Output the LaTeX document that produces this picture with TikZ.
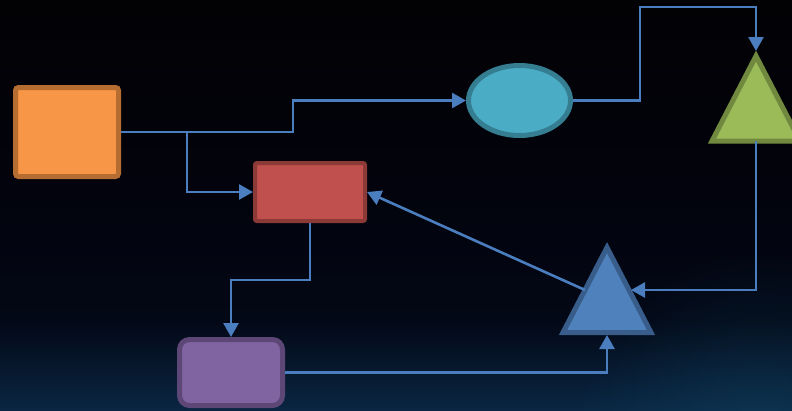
\documentclass[tikz,border=0pt]{standalone}
\usetikzlibrary{arrows.meta,calc,shapes.geometric,fadings}
\definecolor{bgtop}{HTML}{020205}
\definecolor{bgmidA}{HTML}{02030C}
\definecolor{bgmidB}{HTML}{030816}
\definecolor{bgbot}{HTML}{0A2642}
\definecolor{glow}{HTML}{125070}
\definecolor{conncol}{HTML}{4A7EBF}
\definecolor{orfill}{HTML}{F79646}\definecolor{ordraw}{HTML}{B66D31}
\definecolor{rdfill}{HTML}{C0504D}\definecolor{rddraw}{HTML}{8C3A38}
\definecolor{cyfill}{HTML}{4BACC6}\definecolor{cydraw}{HTML}{357D91}
\definecolor{grfill}{HTML}{9BBB59}\definecolor{grdraw}{HTML}{71893F}
\definecolor{blfill}{HTML}{4F81BD}\definecolor{bldraw}{HTML}{385D8A}
\definecolor{pufill}{HTML}{8064A2}\definecolor{pudraw}{HTML}{5C4776}
\pgfdeclareverticalshading{bgshade}{100bp}{color(0bp)=(bgbot); color(25bp)=(bgbot); color(36bp)=(bgmidB); color(52bp)=(bgmidA); color(75bp)=(bgtop); color(100bp)=(bgtop)}
\tikzfading[name=myglowfade, inner color=transparent!0, outer color=transparent!100]
\tikzset{
  conn/.style={draw=conncol, line width=2.6pt, -{Triangle[length=14pt,width=15pt]}},
  shapebox/.style={inner sep=0pt, outer sep=2.5pt},
  trianglebox/.style={inner sep=0pt, outer sep=0pt, minimum width=88pt, minimum height=85pt},
}
\begin{document}
\begin{tikzpicture}[x=1pt,y=-1pt]
\useasboundingbox (0,0) rectangle (792,410);
\shade[shading=bgshade] (0,0) rectangle (792,410);
\begin{scope}
\clip (0,0) rectangle (792,410);
\fill[glow, opacity=0.35, path fading=myglowfade] (760,440) circle (190);
\end{scope}
% shapes
\node[shapebox, draw=ordraw, fill=orfill, line width=5pt, rounded corners=3pt,
      minimum width=103pt, minimum height=89pt] (o) at (67,132) {};
\node[shapebox, outer sep=2pt, draw=rddraw, fill=rdfill, line width=4pt, rounded corners=2pt,
      minimum width=110pt, minimum height=58pt] (r) at (310,192) {};
\node[shapebox, ellipse, draw=cydraw, fill=cyfill, line width=5pt,
      minimum width=102pt, minimum height=70pt] (e) at (519.5,100.5) {};
\node[shapebox, draw=pudraw, fill=pufill, line width=5pt, rounded corners=10pt,
      minimum width=103pt, minimum height=66pt] (p) at (231,372.5) {};
\node[trianglebox] (g) at (756,98.5) {};
\draw[draw=grdraw, fill=grfill, line width=5pt, line join=miter] (g.north) -- (g.south east) -- (g.south west) -- cycle;
\node[trianglebox] (b) at (607,290) {};
\draw[draw=bldraw, fill=blfill, line width=5pt, line join=miter] (b.north) -- (b.south east) -- (b.south west) -- cycle;
\coordinate (bR) at ($(b.north)!0.5!(b.south east)$);
\coordinate (bL) at ($(b.north)!0.5!(b.south west)$);
% connectors
\draw[conn] (o.east) -- ++(172,0) |- (e.west);
\draw[conn] (o.east) -- ++(66,0) |- (r.west);
\draw[conn, shorten >=5pt] (e.east) -- ++(67,0) |- ($(g.north)+(0,-49)$) -- (g.north);
\draw[conn, shorten >=2pt] (g.south) |- (bR);
\draw[conn] (bL) -- (r.east);
\draw[conn] (r.south) -- ++(0,57) -| (p.north);
\draw[conn, shorten >=2.5pt] (p.east) -| (b.south);
\end{tikzpicture}
\end{document}
